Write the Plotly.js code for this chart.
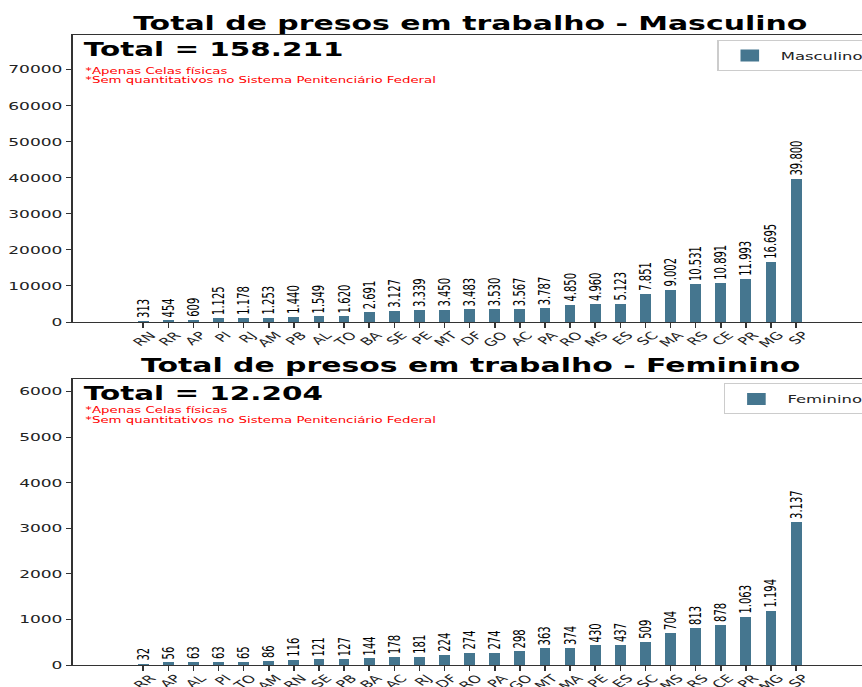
<!DOCTYPE html>
<html>
<head>
<meta charset="utf-8">
<script src="https://cdn.plot.ly/plotly-3.0.1.min.js"></script>
<style>
  html, body { margin: 0; padding: 0; overflow: hidden; background: #fff; width: 862px; height: 687px; }
  #chart { width: 563px; height: 687px; transform: scaleX(1.55); transform-origin: 0 0; }
</style>
</head>
<body>
<div id="chart"></div>
<script>
// ---- data ----
const statesMasc = ["RN","RR","AP","PI","RJ","AM","PB","AL","TO","BA","SE","PE","MT","DF","GO","AC","PA","RO","MS","ES","SC","MA","RS","CE","PR","MG","SP"];
const valuesMasc = [313,454,609,1125,1178,1253,1440,1549,1620,2691,3127,3339,3450,3483,3530,3567,3787,4850,4960,5123,7851,9002,10531,10891,11993,16695,39800];
const statesFem = ["RR","AP","AL","PI","TO","AM","RN","SE","PB","BA","AC","RJ","DF","RO","PA","GO","MT","MA","PE","ES","SC","MS","RS","CE","PR","MG","SP"];
const valuesFem = [32,56,63,63,65,86,116,121,127,144,178,181,224,274,274,298,363,374,430,437,509,704,813,878,1063,1194,3137];
const titleMasc = "Total de presos em trabalho - Masculino";
const titleFem = "Total de presos em trabalho - Feminino";
const noteLines = ["*Apenas Celas físicas", "*Sem quantitativos no Sistema Penitenciário Federal"];

// ---- helpers ----
const fmt = v => String(v).replace(/\B(?=(\d{3})+(?!\d))/g, ".");
const sum = a => a.reduce((s, v) => s + v, 0);

const BAR = "#45768f";
const FONT = "DejaVu Sans";

function barTrace(x, y, name, xa, ya, lg) {
  return {
    type: "bar", x: x, y: y, name: name, xaxis: xa, yaxis: ya, legend: lg,
    width: 0.43,
    marker: { color: BAR, line: { width: 0 } },
    text: y.map(fmt), textposition: "outside", textangle: -90,
    constraintext: "none", cliponaxis: false,
    textfont: { family: FONT, size: 10, color: "#000" },
    showlegend: true, hoverinfo: "skip"
  };
}

const data = [
  barTrace(statesMasc, valuesMasc, "Masculino", "x", "y", "legend"),
  barTrace(statesFem, valuesFem, "Feminino", "x2", "y2", "legend2")
];

const xCommon = {
  type: "category", range: [-2.8, 28.8], showline: true, linecolor: "#333", linewidth: 1,
  mirror: true, ticks: "outside", ticklen: 5, tickcolor: "#333", tickangle: -45,
  ticklabelshift: 5, ticklabelstandoff: -3,
  tickfont: { family: FONT, size: 10.5, color: "#222" }, showgrid: false, zeroline: false,
  fixedrange: true
};
const yCommon = {
  showline: true, linecolor: "#333", linewidth: 1, mirror: true, ticks: "outside",
  ticklen: 3.5, tickcolor: "#333", tickfont: { family: FONT, size: 11, color: "#222" },
  tickformat: "d",
  showgrid: false, zeroline: false, fixedrange: true
};

function ann(text, x, y, size, color, bold, xanchor) {
  return {
    text: bold ? "<b>" + text + "</b>" : text, x: x, y: y, xref: "paper", yref: "paper",
    xanchor: xanchor, yanchor: "middle", showarrow: false,
    font: { family: FONT, size: size, color: color }
  };
}

const layout = {
  width: 563, height: 687,
  margin: { l: 47, r: 0, t: 35, b: 22 },
  paper_bgcolor: "#fff", plot_bgcolor: "#fff",
  font: { family: FONT },
  bargap: 0,
  xaxis: Object.assign({}, xCommon, { anchor: "y", domain: [0, 1] }),
  yaxis: Object.assign({}, yCommon, { anchor: "x", domain: [0.5444, 1], range: [0, 2 * Math.max(...valuesMasc)], dtick: 10000 }),
  xaxis2: Object.assign({}, xCommon, { anchor: "y2", domain: [0, 1] }),
  yaxis2: Object.assign({}, yCommon, { anchor: "x2", domain: [0, 0.454], range: [0, 2 * Math.max(...valuesFem)], dtick: 1000 }),
  legend: {
    x: 0.812, y: 0.992, xanchor: "left", yanchor: "top",
    bgcolor: "#fff", bordercolor: "#ccc", borderwidth: 1,
    font: { family: FONT, size: 10.6, color: "#222" }
  },
  legend2: {
    x: 0.821, y: 0.447, xanchor: "left", yanchor: "top",
    bgcolor: "#fff", bordercolor: "#ccc", borderwidth: 1,
    font: { family: FONT, size: 10.6, color: "#222" }
  },
  annotations: [
    ann(titleMasc, 0.5, 1.019, 19.3, "#000", true, "center"),
    ann(titleFem, 0.5, 0.4754, 19.3, "#000", true, "center"),
    ann("Total = " + fmt(sum(valuesMasc)), 0.009, 0.978, 19, "#000", true, "left"),
    ann("Total = " + fmt(sum(valuesFem)), 0.009, 0.432, 19, "#000", true, "left"),
    ann(noteLines[0], 0.0115, 0.9435, 8.6, "#ff0000", false, "left"),
    ann(noteLines[1], 0.0115, 0.9285, 8.6, "#ff0000", false, "left"),
    ann(noteLines[0], 0.0115, 0.4045, 8.6, "#ff0000", false, "left"),
    ann(noteLines[1], 0.0115, 0.3895, 8.6, "#ff0000", false, "left")
  ]
};

Plotly.newPlot("chart", data, layout, { displayModeBar: false, staticPlot: true });
</script>
</body>
</html>
